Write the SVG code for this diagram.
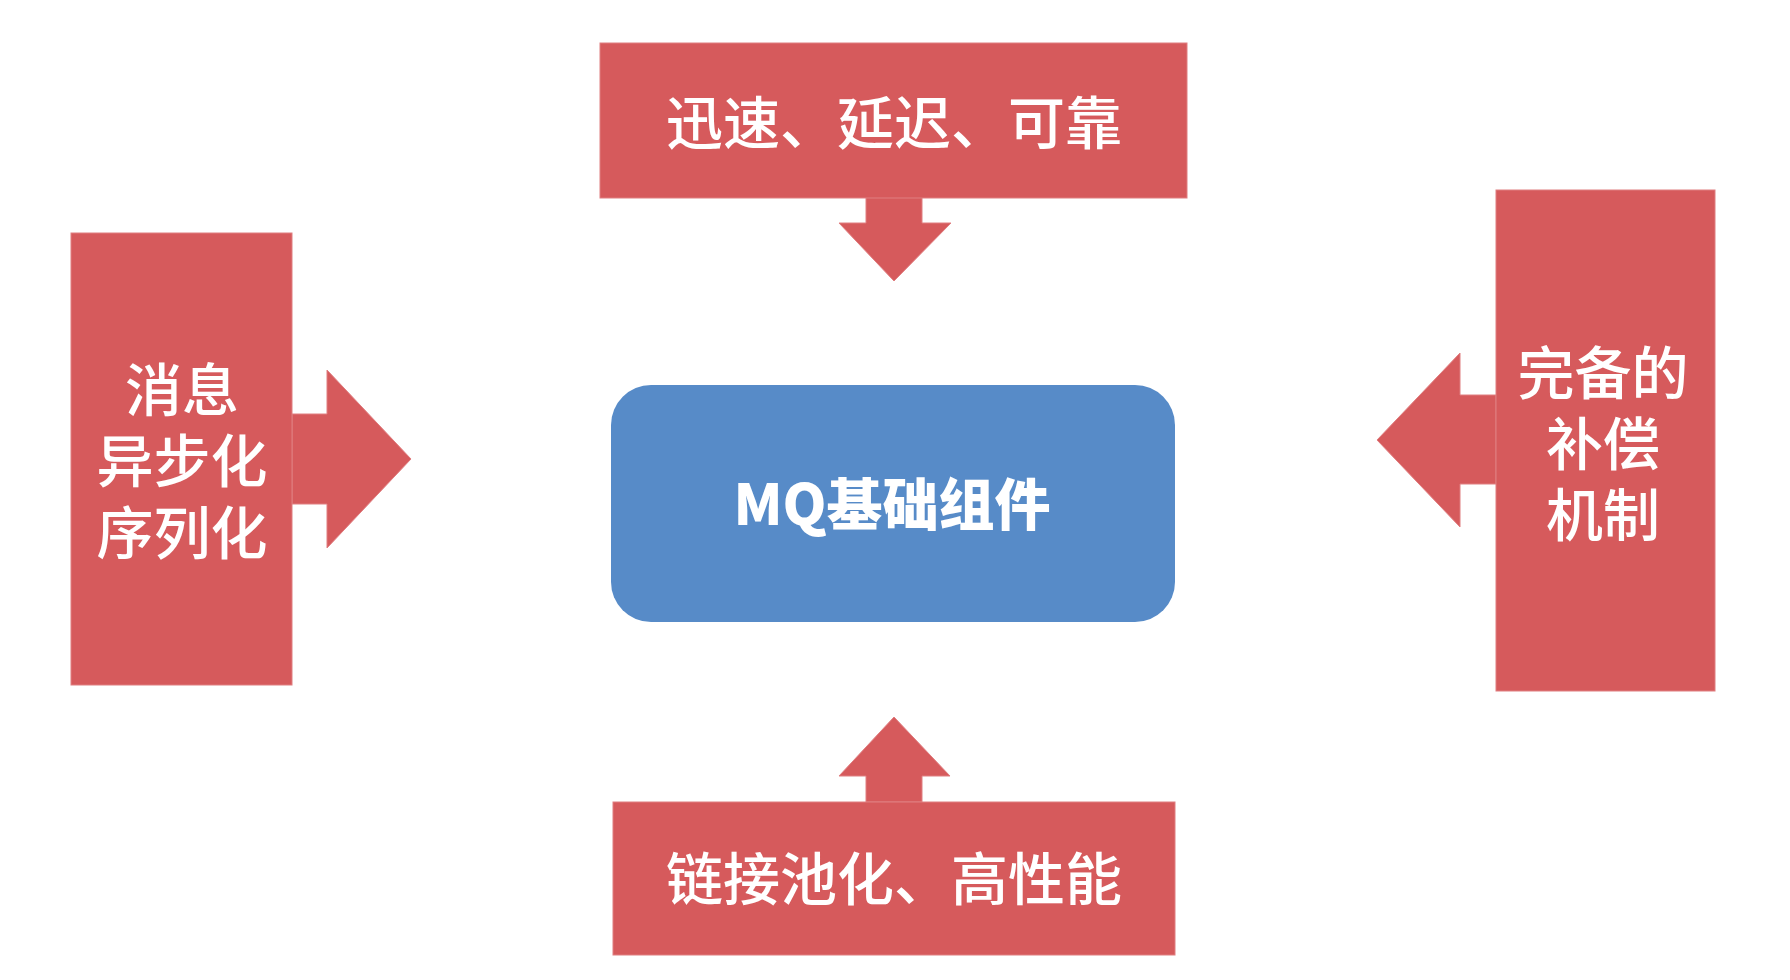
<svg xmlns="http://www.w3.org/2000/svg" width="1790" height="980" viewBox="0 0 1790 980">
  <style>
    .red { fill: #D65A5C; stroke: #E07E80; stroke-width: 1; }
    .blue { fill: #578BC8; }
    .lbl { font-family: "Noto Sans CJK SC", "Noto Sans", sans-serif; font-size: 57px; font-weight: 500; fill: #FFFFFF; text-anchor: middle; }
    .core { font-family: "Noto Sans CJK SC", "Noto Sans", sans-serif; font-size: 56px; font-weight: 900; fill: #FFFFFF; text-anchor: middle; }
  </style>
  <rect width="1790" height="980" fill="#FFFFFF"/>

  <!-- block pointers from each feature box toward the core -->
  <g id="connectors">
    <!-- top: pointing down -->
    <polygon class="red" points="866,197 922,197 922,223 951,223 894,281 839,223 866,223"/>
    <!-- left: pointing right -->
    <polygon class="red" points="292,414 327,414 327,370 411,459 327,548 327,504 292,504"/>
    <!-- right: pointing left -->
    <polygon class="red" points="1496,395 1460,395 1460,353 1377,440 1460,527 1460,484 1496,484"/>
    <!-- bottom: pointing up -->
    <polygon class="red" points="866,802 866,776 839,776 894,717 950,776 922,776 922,802"/>
  </g>

  <g id="node-top">
    <rect class="red" x="600" y="43" width="587" height="155"/>
    <text class="lbl" x="894" y="144">迅速、延迟、可靠</text>
  </g>

  <g id="node-left">
    <rect class="red" x="71" y="233" width="221" height="452"/>
    <text class="lbl" x="182" y="411"><tspan x="182">消息</tspan><tspan x="182" dy="71">异步化</tspan><tspan x="182" dy="72">序列化</tspan></text>
  </g>

  <g id="node-right">
    <rect class="red" x="1496" y="190" width="219" height="501"/>
    <text class="lbl" x="1603" y="394"><tspan x="1603">完备的</tspan><tspan x="1603" dy="71">补偿</tspan><tspan x="1603" dy="71">机制</tspan></text>
  </g>

  <g id="node-bottom">
    <rect class="red" x="613" y="802" width="562" height="153"/>
    <text class="lbl" x="894" y="900">链接池化、高性能</text>
  </g>

  <g id="node-core">
    <rect class="blue" x="611" y="385" width="564" height="237" rx="40" ry="40"/>
    <text class="core" x="892" y="525">MQ基础组件</text>
  </g>
</svg>
